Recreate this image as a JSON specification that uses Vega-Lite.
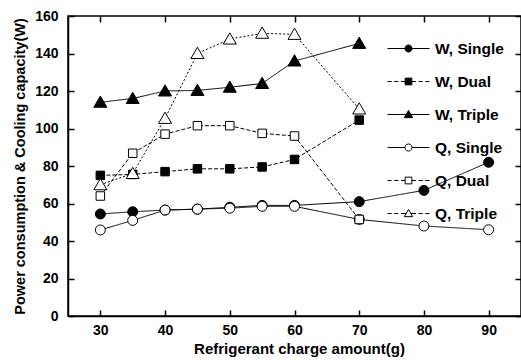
{
  "$schema": "https://vega.github.io/schema/vega-lite/v6.json",
  "width": 453,
  "height": 300,
  "autosize": {"type": "none"},
  "padding": {"left": 68, "top": 16, "right": 0, "bottom": 44},
  "background": "white",
  "config": {
    "font": "Liberation Sans",
    "view": {"stroke": "black", "strokeWidth": 1.5},
    "axis": {
      "grid": false,
      "domainColor": "black",
      "domainWidth": 1.5,
      "tickColor": "black",
      "tickWidth": 1.5,
      "tickSize": -6,
      "labelColor": "black",
      "labelFontSize": 14,
      "labelFontWeight": "bold",
      "titleColor": "black",
      "titleFontWeight": "bold"
    }
  },
  "data": {
    "values": [
      {"series": "W, Single", "charge": 30, "value": 54.4},
      {"series": "W, Single", "charge": 35, "value": 55.6},
      {"series": "W, Single", "charge": 40, "value": 56.5},
      {"series": "W, Single", "charge": 45, "value": 57},
      {"series": "W, Single", "charge": 50, "value": 58},
      {"series": "W, Single", "charge": 55, "value": 59},
      {"series": "W, Single", "charge": 60, "value": 59},
      {"series": "W, Single", "charge": 70, "value": 61},
      {"series": "W, Single", "charge": 80, "value": 67},
      {"series": "W, Single", "charge": 90, "value": 82},
      {"series": "W, Dual", "charge": 30, "value": 75},
      {"series": "W, Dual", "charge": 35, "value": 75.5},
      {"series": "W, Dual", "charge": 40, "value": 77},
      {"series": "W, Dual", "charge": 45, "value": 78.5},
      {"series": "W, Dual", "charge": 50, "value": 78.5},
      {"series": "W, Dual", "charge": 55, "value": 79.5},
      {"series": "W, Dual", "charge": 60, "value": 83.5},
      {"series": "W, Dual", "charge": 70, "value": 104.5},
      {"series": "W, Triple", "charge": 30, "value": 114},
      {"series": "W, Triple", "charge": 35, "value": 116},
      {"series": "W, Triple", "charge": 40, "value": 120},
      {"series": "W, Triple", "charge": 45, "value": 120.3},
      {"series": "W, Triple", "charge": 50, "value": 122},
      {"series": "W, Triple", "charge": 55, "value": 124},
      {"series": "W, Triple", "charge": 60, "value": 136},
      {"series": "W, Triple", "charge": 70, "value": 145.4},
      {"series": "Q, Single", "charge": 30, "value": 45.9},
      {"series": "Q, Single", "charge": 35, "value": 51},
      {"series": "Q, Single", "charge": 40, "value": 56.5},
      {"series": "Q, Single", "charge": 45, "value": 57},
      {"series": "Q, Single", "charge": 50, "value": 57.5},
      {"series": "Q, Single", "charge": 55, "value": 58.5},
      {"series": "Q, Single", "charge": 60, "value": 58.5},
      {"series": "Q, Single", "charge": 70, "value": 51.5},
      {"series": "Q, Single", "charge": 80, "value": 48},
      {"series": "Q, Single", "charge": 90, "value": 46},
      {"series": "Q, Dual", "charge": 30, "value": 64},
      {"series": "Q, Dual", "charge": 35, "value": 86.8},
      {"series": "Q, Dual", "charge": 40, "value": 97},
      {"series": "Q, Dual", "charge": 45, "value": 101.5},
      {"series": "Q, Dual", "charge": 50, "value": 101.5},
      {"series": "Q, Dual", "charge": 55, "value": 97.4},
      {"series": "Q, Dual", "charge": 60, "value": 96},
      {"series": "Q, Dual", "charge": 70, "value": 51.5},
      {"series": "Q, Triple", "charge": 30, "value": 70},
      {"series": "Q, Triple", "charge": 35, "value": 76},
      {"series": "Q, Triple", "charge": 40, "value": 105.4},
      {"series": "Q, Triple", "charge": 45, "value": 140},
      {"series": "Q, Triple", "charge": 50, "value": 147.7},
      {"series": "Q, Triple", "charge": 55, "value": 150.8},
      {"series": "Q, Triple", "charge": 60, "value": 150.2},
      {"series": "Q, Triple", "charge": 70, "value": 110.4}
    ]
  },
  "resolve": {"axis": {"x": "independent", "y": "independent"}},
  "layer": [
    {
      "mark": {"type": "line", "stroke": "black", "strokeWidth": 1},
      "encoding": {
        "x": {
          "field": "charge", "type": "quantitative",
          "scale": {"domain": [25, 95], "nice": false, "zero": false},
          "axis": {
            "orient": "bottom",
            "values": [30, 40, 50, 60, 70, 80, 90],
            "labelPadding": 13,
            "title": "Refrigerant charge amount(g)",
            "titleFontSize": 15,
            "titleX": 231,
            "titleY": 37,
            "titleBaseline": "alphabetic",
            "titleAlign": "center"
          }
        },
        "y": {
          "field": "value", "type": "quantitative",
          "scale": {"domain": [0, 160], "nice": false},
          "axis": {
            "orient": "left",
            "values": [0, 20, 40, 60, 80, 100, 120, 140, 160],
            "labelPadding": 16,
            "title": "Power consumption & Cooling capacity(W)",
            "titleFontSize": 14.5,
            "titleAngle": 270,
            "titleX": -44,
            "titleY": 150,
            "titleBaseline": "alphabetic",
            "titleAlign": "center"
          }
        },
        "detail": {"field": "series", "type": "nominal"},
        "strokeDash": {
          "field": "series", "type": "nominal",
          "scale": {
            "domain": ["Q, Triple", "Q, Dual", "Q, Single", "W, Triple", "W, Dual", "W, Single"],
            "range": [[2, 2], [4, 2], [1, 0], [1, 0], [4, 2], [1, 0]]
          },
          "legend": null
        }
      }
    },
    {
      "mark": {"type": "point", "filled": true, "stroke": "black", "strokeWidth": 1, "opacity": 1, "size": 100},
      "encoding": {
        "x": {"field": "charge", "type": "quantitative", "axis": null},
        "y": {"field": "value", "type": "quantitative", "axis": null},
        "shape": {
          "field": "series", "type": "nominal",
          "scale": {
            "domain": ["W, Triple", "W, Dual", "W, Single", "Q, Triple", "Q, Dual", "Q, Single"],
            "range": [
              "M0,-1.25L1.3,1L-1.3,1Z",
              "M-0.85,-0.85H0.85V0.85H-0.85Z",
              "M1,0A1,1 0 1,1 -1,0A1,1 0 1,1 1,0Z",
              "M0,-1.25L1.3,1L-1.3,1Z",
              "M-0.85,-0.85H0.85V0.85H-0.85Z",
              "M1,0A1,1 0 1,1 -1,0A1,1 0 1,1 1,0Z"
            ]
          },
          "legend": null
        },
        "fill": {
          "field": "series", "type": "nominal",
          "scale": {
            "domain": ["W, Single", "W, Dual", "W, Triple", "Q, Single", "Q, Dual", "Q, Triple"],
            "range": ["black", "black", "black", "white", "white", "white"]
          },
          "legend": {
            "title": null,
            "orient": "none",
            "legendX": 319,
            "legendY": 11,
            "symbolSize": 64,
            "symbolStrokeWidth": 1,
            "labelFontSize": 15.5,
            "labelFontWeight": "bold",
            "labelColor": "black",
            "labelOffset": 5,
            "rowPadding": 3,
            "encoding": {
              "symbols": {
                "shape": {"value": {"expr": "datum.value == 'W, Single' ? 'M-1,0H1M0.17,0L0.147,0.085L0.085,0.147L0,0.17L-0.085,0.147L-0.147,0.085L-0.17,0L-0.147,-0.085L-0.085,-0.147L0,-0.17L0.085,-0.147L0.147,-0.085Z' : datum.value == 'W, Dual' ? 'M-1,0H-0.8M-0.68,0H-0.48M-0.36,0H0.36M0.48,0H0.68M0.8,0H1M-0.16,-0.16H0.16V0.16H-0.16Z' : datum.value == 'W, Triple' ? 'M-1,0H1M0,-0.19L0.2,0.15L-0.2,0.15Z' : datum.value == 'Q, Single' ? 'M-1,0H-0.17M0.17,0H1M0.17,0L0.147,0.085L0.085,0.147L0,0.17L-0.085,0.147L-0.147,0.085L-0.17,0L-0.147,-0.085L-0.085,-0.147L0,-0.17L0.085,-0.147L0.147,-0.085Z' : datum.value == 'Q, Dual' ? 'M-1,0H-0.8M-0.68,0H-0.48M-0.36,0H-0.16M0.16,0H0.36M0.48,0H0.68M0.8,0H1M-0.16,-0.16H0.16V0.16H-0.16Z' : 'M-1,0H-0.8M-0.68,0H-0.48M-0.36,0H-0.11M0.11,0H0.36M0.48,0H0.68M0.8,0H1M0,-0.19L0.2,0.15L-0.2,0.15Z'"}},
                "size": {"value": 1764},
                "stroke": {"value": "black"},
                "strokeWidth": {"value": 1},
                "fillOpacity": {"value": 1}
              }
            }
          }
        }
      }
    },
    {
      "mark": {"type": "point", "opacity": 0},
      "encoding": {
        "x": {
          "field": "charge", "type": "quantitative",
          "axis": {"orient": "top", "values": [30, 40, 50, 60, 70, 80, 90], "labels": false, "domain": false, "title": null}
        },
        "y": {
          "field": "value", "type": "quantitative",
          "axis": {"orient": "right", "values": [0, 20, 40, 60, 80, 100, 120, 140, 160], "labels": false, "domain": false, "title": null}
        }
      }
    }
  ]
}
